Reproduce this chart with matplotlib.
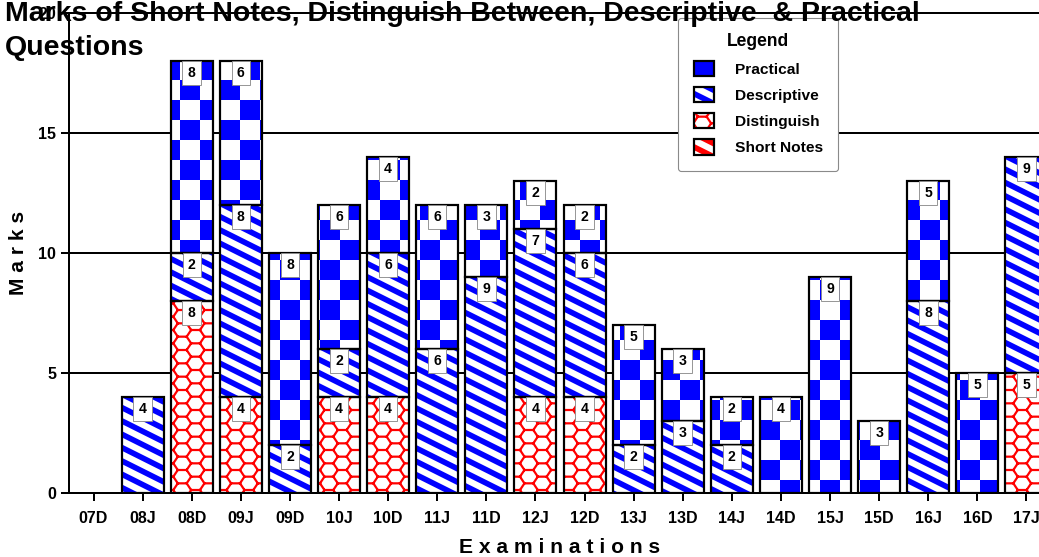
import warnings
import numpy as np
import matplotlib
matplotlib.use("Agg")
import matplotlib.pyplot as plt
import matplotlib.hatch as mhatch
from matplotlib.path import Path
from matplotlib.patches import Patch

warnings.filterwarnings("ignore", message=".*hatch must consist.*")
mhatch._validate_hatch_pattern = lambda h: None

# data
exams = ['07D', '08J', '08D', '09J', '09D', '10J', '10D', '11J', '11D', '12J',
         '12D', '13J', '13D', '14J', '14D', '15J', '15D', '16J', '16D', '17J']
short_notes = [0, 0, 0, 0, 0, 0, 0, 0, 0, 0, 0, 0, 0, 0, 0, 0, 0, 0, 0, 0]
distinguish = [0, 0, 8, 4, 0, 4, 4, 0, 0, 4, 4, 0, 0, 0, 0, 0, 0, 0, 0, 5]
descriptive = [0, 4, 2, 8, 2, 2, 6, 6, 9, 7, 6, 2, 3, 2, 0, 0, 0, 8, 0, 9]
practical = [0, 0, 8, 6, 8, 6, 4, 6, 3, 2, 2, 5, 3, 2, 4, 9, 3, 5, 5, 0]

DPI = 80
BLUE = '#0000ff'
RED = '#ff0000'


def pt(px):
    return px * 72 / DPI


HATCH_LW = 2.0
plt.rcParams['hatch.linewidth'] = HATCH_LW
half = HATCH_LW / 72 / 2  # half stroke in tile units (tile = one inch)


# --- custom hatch patterns (tile is one inch) ---
class CheckerHatch(mhatch.HatchPatternBase):
    def __init__(self, hatch, density):
        n = 4
        self.n = n
        self.cells = [(i, j) for i in range(n) for j in range(n)
                      if (i + j) % 2 == 0] if 'c' in hatch else []
        self.num_vertices = len(self.cells) * 5

    def set_vertices_and_codes(self, vertices, codes):
        s = 1.0 / self.n
        e = half
        k = 0
        for i, j in self.cells:
            x0, y0, x1, y1 = i * s + e, j * s + e, (i + 1) * s - e, (j + 1) * s - e
            vertices[k:k + 5] = [(x0, y0), (x1, y0), (x1, y1), (x0, y1), (x0, y0)]
            codes[k:k + 5] = [Path.MOVETO, Path.LINETO, Path.LINETO,
                              Path.LINETO, Path.CLOSEPOLY]
            k += 5


class StripeHatch(mhatch.HatchPatternBase):
    def __init__(self, hatch, density):
        n = 6
        self.n = n
        self.ks = list(range(-3, int(1.5 * n) + 4)) if 's' in hatch else []
        self.num_vertices = len(self.ks) * 5

    def set_vertices_and_codes(self, vertices, codes):
        tv = 3.4 / DPI / 0.894 / 2
        k = 0
        for c in self.ks:
            c = c / self.n
            xa, xb = -0.3, 1.3
            ya, yb = -0.5 * xa + c, -0.5 * xb + c
            vertices[k:k + 5] = [(xa, ya - tv), (xb, yb - tv), (xb, yb + tv),
                                 (xa, ya + tv), (xa, ya - tv)]
            codes[k:k + 5] = [Path.MOVETO, Path.LINETO, Path.LINETO,
                              Path.LINETO, Path.CLOSEPOLY]
            k += 5


class HexHatch(mhatch.HatchPatternBase):
    def __init__(self, hatch, density):
        self.nx, self.ny = 3, 6
        segs = []
        if 'h' in hatch:
            W, H = 1.0 / self.nx, 1.0 / self.ny
            s, hh = W / 3, H / 2
            base = [((0, hh), (s / 2, 0)), ((s / 2, 0), (3 * s / 2, 0)),
                    ((3 * s / 2, 0), (2 * s, hh)), ((2 * s, hh), (3 * s / 2, H)),
                    ((s / 2, H), (0, hh)), ((2 * s, hh), (3 * s, hh))]
            for ix in range(-1, self.nx + 1):
                for iy in range(-1, self.ny + 1):
                    ox, oy = ix * W, iy * H + H / 4
                    for (a, b) in base:
                        segs.append(((a[0] + ox, a[1] + oy), (b[0] + ox, b[1] + oy)))
        self.segs = segs
        self.num_vertices = len(segs) * 2

    def set_vertices_and_codes(self, vertices, codes):
        for k, (a, b) in enumerate(self.segs):
            vertices[2 * k] = a
            vertices[2 * k + 1] = b
            codes[2 * k] = Path.MOVETO
            codes[2 * k + 1] = Path.LINETO


mhatch._hatch_types.extend([CheckerHatch, StripeHatch, HexHatch])

plt.rcParams['font.family'] = ['Liberation Sans', 'DejaVu Sans']

fig = plt.figure(figsize=(1039 / DPI, 557 / DPI), dpi=DPI)
ax = fig.add_axes([69 / 1039, 64 / 557, 982 / 1039, 480 / 557])

x = np.arange(len(exams))
width = 0.855
series = [
    ('Short Notes', short_notes, RED, 's'),
    ('Distinguish', distinguish, RED, 'h'),
    ('Descriptive', descriptive, BLUE, 's'),
    ('Practical', practical, BLUE, 'c'),
]

bottom = np.zeros(len(exams))
for name, vals, col, hatch in series:
    vals = np.array(vals, dtype=float)
    m = vals > 0
    if m.any():
        ax.bar(x[m], vals[m], width, bottom=bottom[m], color='white',
               edgecolor=col, linewidth=0, hatch=hatch, zorder=2)
        ax.bar(x[m], vals[m], width, bottom=bottom[m], fill=False,
               edgecolor='black', linewidth=pt(2.2), zorder=3)
        for xi, v, b in zip(x[m], vals[m], bottom[m]):
            ax.text(xi, b + v - 0.5, f"{int(v)}", ha='center', va='center',
                    fontsize=pt(14), fontweight='bold', zorder=5,
                    bbox=dict(boxstyle='square,pad=0.38', fc='white',
                              ec='#8c8c8c', lw=0.8))
    bottom += vals

ax.set_xlim(-0.5, 19.5)
ax.set_ylim(0, 20)
ax.set_yticks([0, 5, 10, 15, 20])
ax.set_xticks(x)
ax.set_xticklabels(exams)
ax.yaxis.grid(True, color='black', linewidth=pt(2))
ax.tick_params(axis='both', length=pt(8), width=pt(2), color='black',
               labelsize=pt(16))
ax.tick_params(axis='x', pad=pt(10))
ax.tick_params(axis='y', pad=pt(5))
for lab in ax.get_xticklabels() + ax.get_yticklabels():
    lab.set_fontweight('bold')
for sp in ax.spines.values():
    sp.set_linewidth(pt(2))
ax.spines['right'].set_visible(False)

ax.set_xlabel("E x a m i n a t i o n s", fontsize=pt(21), fontweight='bold')
ax.set_ylabel("M a r k s", fontsize=pt(21), fontweight='bold')
ax.xaxis.set_label_coords(0.5, -0.094)
ax.yaxis.set_label_coords(-0.042, 0.5)

fig.text(5 / 1039, 1 - 1 / 557,
         "Marks of Short Notes, Distinguish Between, Descriptive  & Practical\nQuestions",
         ha='left', va='top', fontsize=pt(28.5), fontweight='bold', zorder=10,
         linespacing=1.38)

# legend (Practical first, as in the chart)
handles = []
labels = []
for name, vals, col, hatch in series[::-1]:
    if name == 'Practical':
        hp = Patch(facecolor=BLUE, edgecolor=BLUE, linewidth=0)
    else:
        hp = Patch(facecolor='white', edgecolor=col, linewidth=0, hatch=hatch)
    fr = Patch(fill=False, edgecolor='black', linewidth=pt(2.2))
    handles.append((hp, fr))
    labels.append(name)
leg = ax.legend(handles, labels, title="Legend", loc='upper left',
                bbox_to_anchor=(678 / 1039, 1 - 18 / 557),
                bbox_transform=fig.transFigure, borderaxespad=0,
                prop={'weight': 'bold', 'size': pt(15.5)},
                title_fontproperties={'weight': 'bold', 'size': pt(17.5)},
                handlelength=1.3, handleheight=1.15, labelspacing=0.66,
                handletextpad=1.35, borderpad=1.0, fancybox=True,
                framealpha=1, edgecolor='#8a8a8a')
leg.get_frame().set_linewidth(1.0)
leg.set_zorder(6)

fig.savefig("out.png", dpi=DPI)
